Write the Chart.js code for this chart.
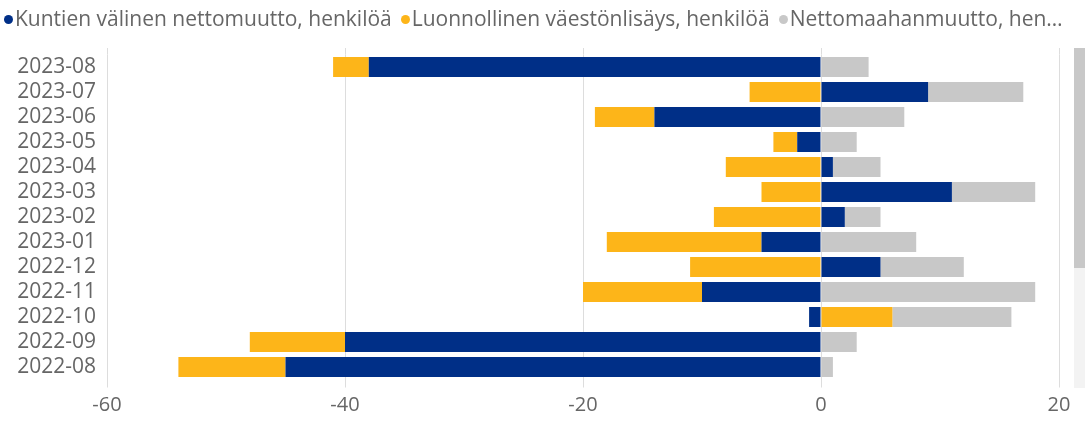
<!DOCTYPE html>
<html>
<head>
<meta charset="utf-8">
<script src="https://cdn.jsdelivr.net/npm/chart.js@4.4.1/dist/chart.umd.min.js"></script>
<style>
  body { margin: 0; background: #fff; font-family: "Open Sans", sans-serif; }
  #wrap { position: relative; width: 1085px; height: 422px; overflow: hidden; }
  #legend { position: absolute; left: 4px; top: 3px; width: 1064px; white-space: nowrap; overflow: hidden; text-overflow: ellipsis; font-size: 21px; color: #666; line-height: 30px; }
  #legend span.dot { display: inline-block; width: 9px; height: 9px; border-radius: 50%; margin-right: 2px; vertical-align: 2px; }
  #legend span.item { margin-right: 9px; }
  #thumb { position: absolute; left: 1074px; top: 48px; width: 11px; height: 220px; background: #c8c8c8; }
  #track { position: absolute; left: 1074px; top: 268px; width: 11px; height: 120px; background: #f3f3f3; }
</style>
</head>
<body>
<div id="wrap">
  <canvas id="myChart" width="1085" height="422"></canvas>
  <div id="legend"></div>
  <div id="track"></div>
  <div id="thumb"></div>
</div>
<script>
const labels = ['2023-08', '2023-07', '2023-06', '2023-05', '2023-04', '2023-03', '2023-02',
                '2023-01', '2022-12', '2022-11', '2022-10', '2022-09', '2022-08'];
const kuntienValinen = [-38, 9, -14, -2, 1, 11, 2, -5, 5, -10, -1, -40, -45];
const luonnollinen = [-3, -6, -5, -2, -8, -5, -9, -13, -11, -10, 6, -8, -9];
const nettomaahanmuutto = [4, 8, 7, 3, 4, 7, 3, 8, 7, 18, 10, 3, 1];
const xTicks = [-60, -40, -20, 0, 20];

const seriesNames = ['Kuntien välinen nettomuutto, henkilöä', 'Luonnollinen väestönlisäys, henkilöä', 'Nettomaahanmuutto, henkilöä'];
const colors = ['#002f87', '#fdb519', '#c8c8c8'];

// gridlines in the original poke out a little above the bars
const gridTop = {
    id: 'gridTop',
    beforeDatasetsDraw(chart) {
        const x = chart.scales.x, ctx = chart.ctx;
        ctx.save();
        ctx.strokeStyle = '#dddddd';
        ctx.lineWidth = 1;
        xTicks.forEach(v => {
            const px = Math.round(x.getPixelForValue(v)) + 0.5;
            ctx.beginPath();
            ctx.moveTo(px, 48);
            ctx.lineTo(px, chart.chartArea.top);
            ctx.stroke();
        });
        ctx.restore();
    }
};

const ctx = document.getElementById('myChart');
const mychart = new Chart(ctx, {
    type: 'bar',
    data: {
        labels: labels,
        datasets: [
            { label: seriesNames[0], data: kuntienValinen, backgroundColor: colors[0] },
            { label: seriesNames[1], data: luonnollinen, backgroundColor: colors[1] },
            { label: seriesNames[2], data: nettomaahanmuutto, backgroundColor: colors[2] }
        ]
    },
    options: {
        indexAxis: 'y',
        responsive: false,
        animation: false,
        barPercentage: 0.8,
        categoryPercentage: 1,
        layout: { padding: { top: 54.5, right: 26, left: 0, bottom: 0 } },
        plugins: { legend: { display: false }, tooltip: { enabled: false } },
        scales: {
            x: {
                stacked: true,
                min: -60,
                max: 20,
                afterBuildTicks: s => { s.ticks = xTicks.map(v => ({ value: v })); },
                afterFit: s => { s.height = 42.5; },
                border: { display: false },
                grid: { color: '#dddddd', tickLength: 8, tickColor: '#dddddd' },
                ticks: { color: '#666', padding: 6, font: { family: 'Open Sans', size: 20 } }
            },
            y: {
                stacked: true,
                afterFit: s => { s.width = 107; },
                border: { display: false },
                grid: { display: false, drawTicks: false },
                ticks: { color: '#666', padding: 11, autoSkip: false, font: { family: 'Open Sans', size: 21 } }
            }
        }
    },
    plugins: [gridTop]
});

const legend = document.getElementById('legend');
legend.innerHTML = seriesNames.map((n, i) =>
    '<span class="item"><span class="dot" style="background:' + colors[i] + '"></span>' + n + '</span>'
).join('');
</script>
</body>
</html>
